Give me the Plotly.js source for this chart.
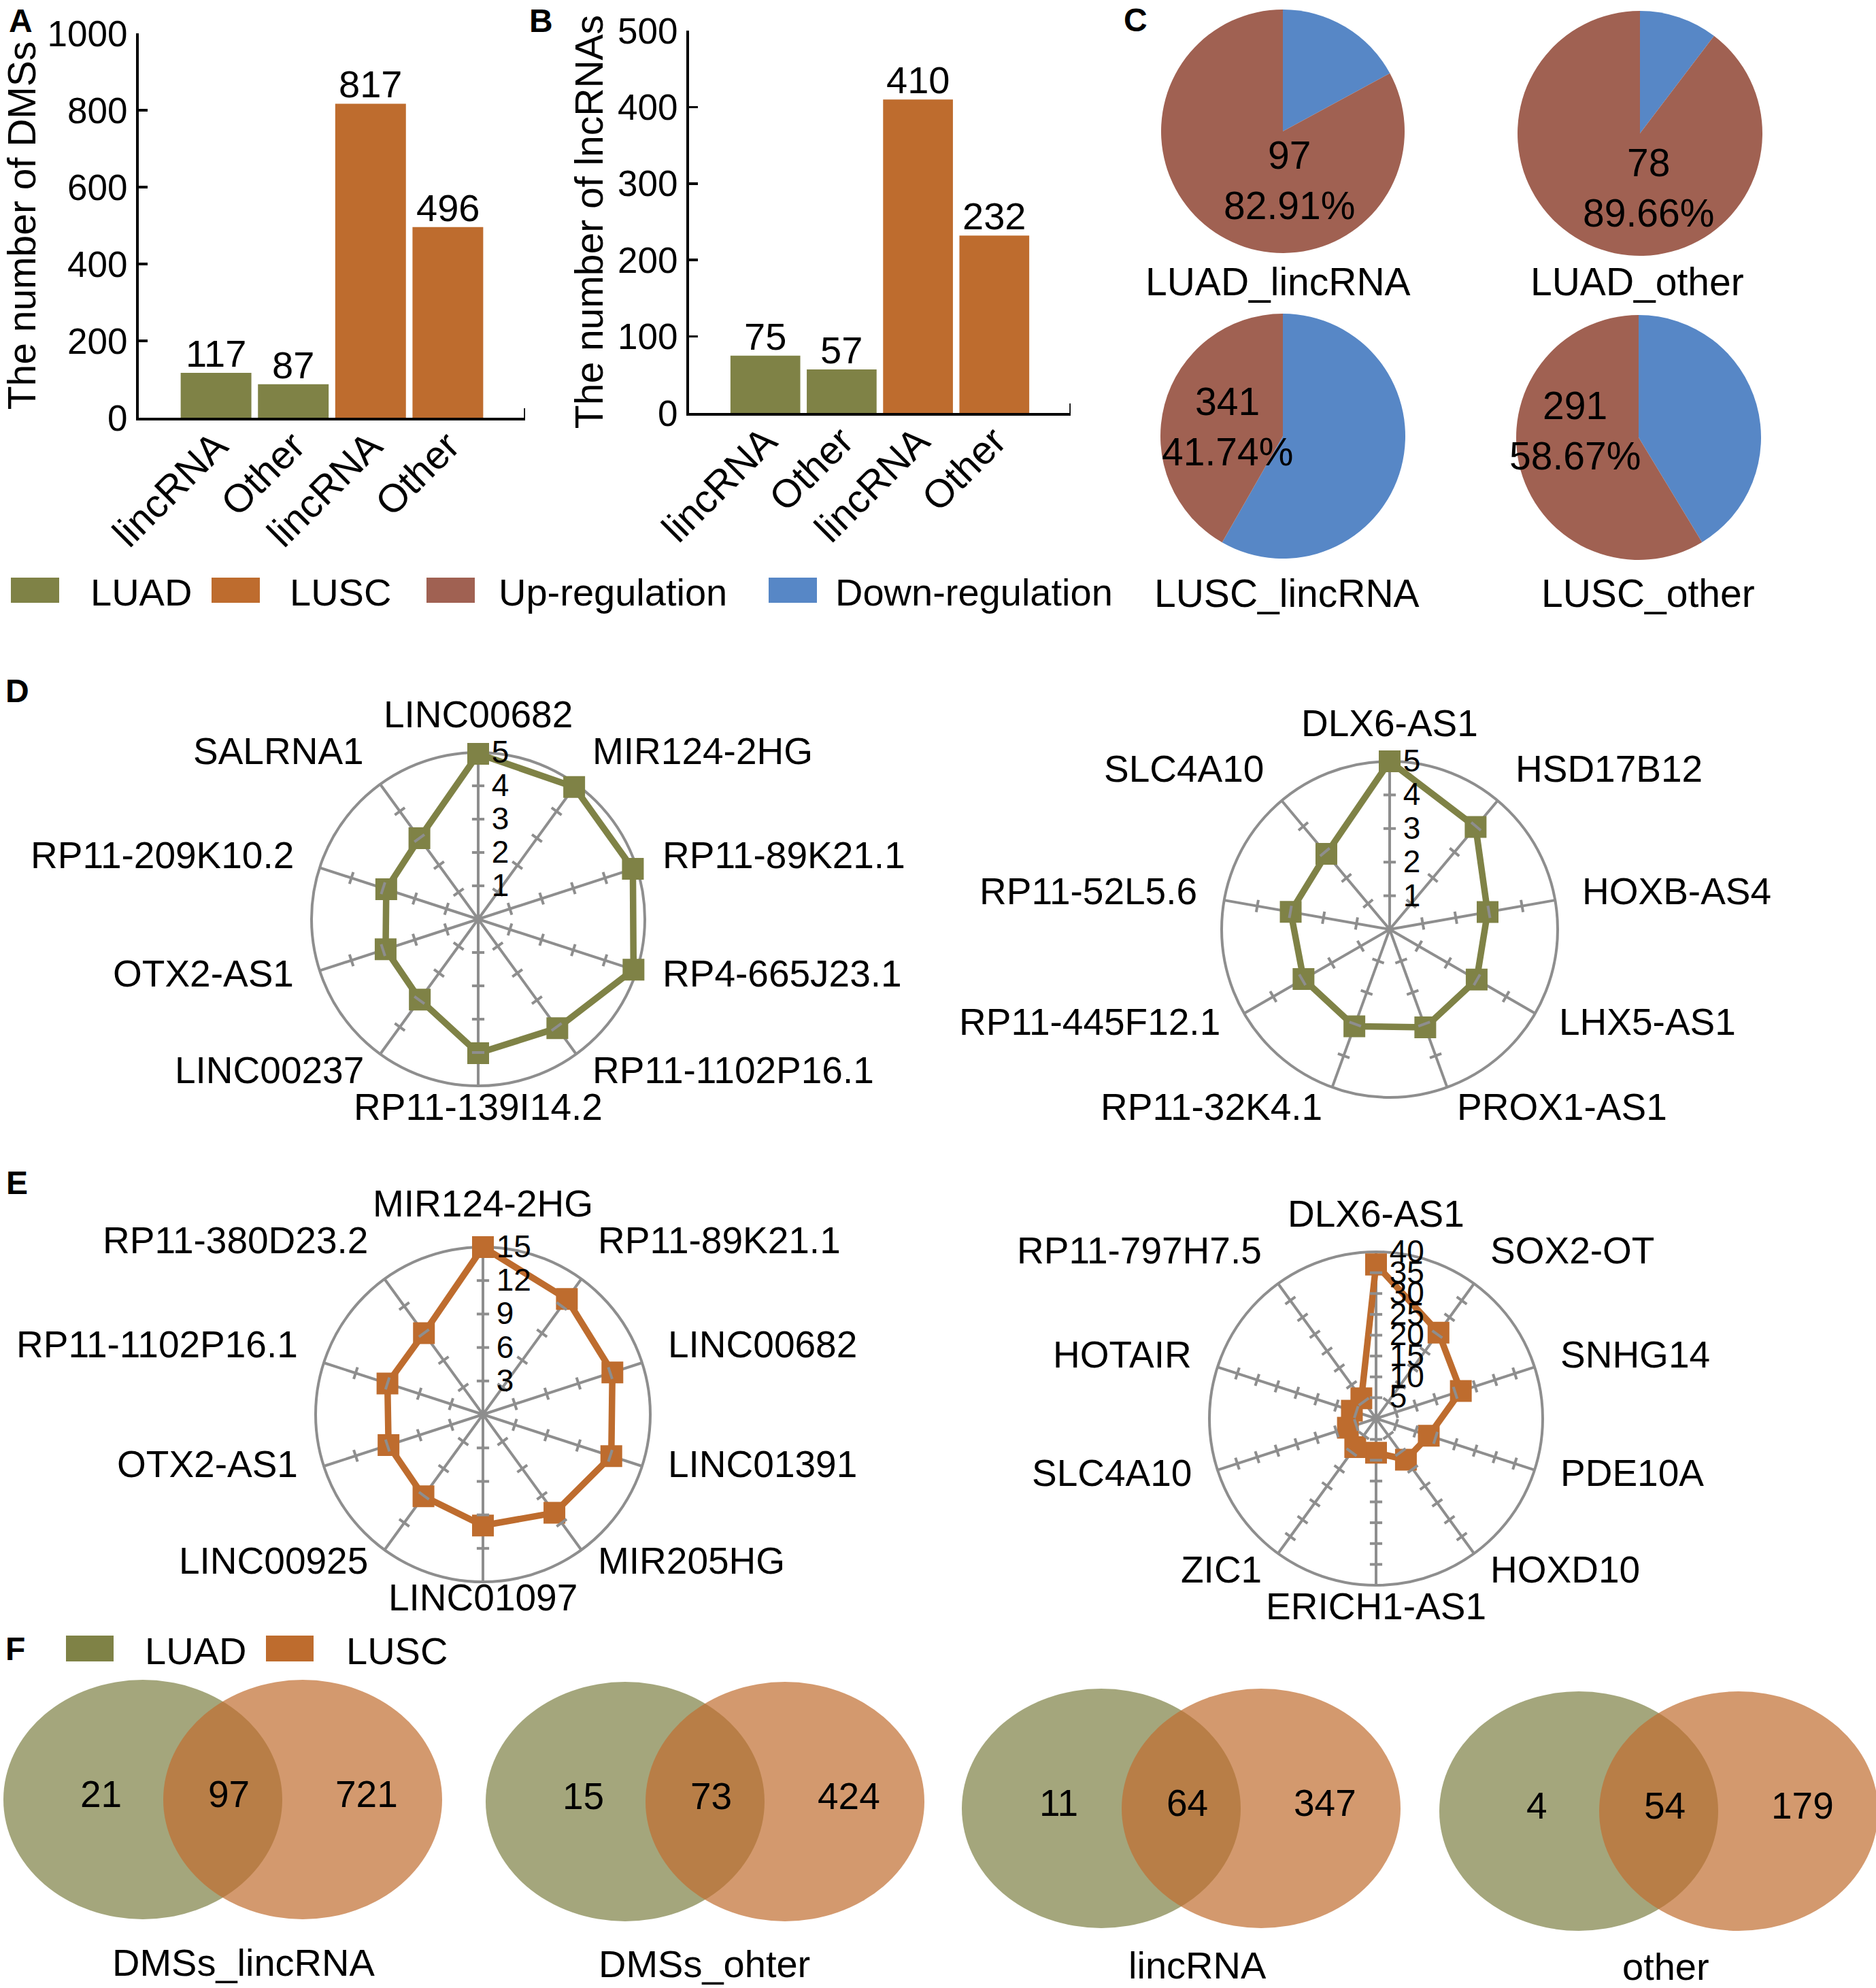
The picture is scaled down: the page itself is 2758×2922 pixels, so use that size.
<!DOCTYPE html>
<html><head><meta charset="utf-8">
<script src="https://cdn.plot.ly/plotly-3.0.1.min.js"></script>
<style>html,body{margin:0;padding:0;background:#fff}</style>
</head><body><div id="chart" style="width:2758px;height:2922px"></div>
<script>
// ================= DATA =================
const barCategoriesA = ['lincRNA', 'Other', 'lincRNA', 'Other'];
const barGroupsA = ['LUAD', 'LUAD', 'LUSC', 'LUSC'];
const dmsCounts = [117, 87, 817, 496];

const barCategoriesB = ['lincRNA', 'Other', 'lincRNA', 'Other'];
const barGroupsB = ['LUAD', 'LUAD', 'LUSC', 'LUSC'];
const lncrnaCounts = [75, 57, 410, 232];

const legendLabels = ['LUAD', 'LUSC', 'Up-regulation', 'Down-regulation'];

const pieNames = ['LUAD_lincRNA', 'LUAD_other', 'LUSC_lincRNA', 'LUSC_other'];
const pieTotals = [117, 87, 817, 496];
const pieUp = [97, 78, 341, 291];

const radarD1Genes = ['LINC00682', 'MIR124-2HG', 'RP11-89K21.1', 'RP4-665J23.1', 'RP11-1102P16.1',
  'RP11-139I14.2', 'LINC00237', 'OTX2-AS1', 'RP11-209K10.2', 'SALRNA1'];
const radarD1Values = [4.96, 4.9, 4.88, 4.9, 4.04, 4.02, 2.98, 2.92, 2.9, 3.0];

const radarD2Genes = ['DLX6-AS1', 'HSD17B12', 'HOXB-AS4', 'LHX5-AS1', 'PROX1-AS1',
  'RP11-32K4.1', 'RP11-445F12.1', 'RP11-52L5.6', 'SLC4A10'];
const radarD2Values = [5.0, 3.98, 2.96, 2.99, 3.1, 3.07, 2.96, 2.99, 2.93];

const radarE1Genes = ['MIR124-2HG', 'RP11-89K21.1', 'LINC00682', 'LINC01391', 'MIR205HG',
  'LINC01097', 'LINC00925', 'OTX2-AS1', 'RP11-1102P16.1', 'RP11-380D23.2'];
const radarE1Values = [15.0, 12.8, 12.2, 12.1, 10.9, 9.95, 9.07, 8.9, 9.0, 9.0];

const radarE2Genes = ['DLX6-AS1', 'SOX2-OT', 'SNHG14', 'PDE10A', 'HOXD10',
  'ERICH1-AS1', 'ZIC1', 'SLC4A10', 'HOTAIR', 'RP11-797H7.5'];
const radarE2Values = [37.0, 25.5, 21.4, 13.3, 12.2, 8.2, 8.5, 7.1, 6.1, 6.0];

const radarD1Ticks = [1, 2, 3, 4, 5];
const radarD2Ticks = [1, 2, 3, 4, 5];
const radarE1Ticks = [3, 6, 9, 12, 15];
const radarE2Ticks = [5, 10, 15, 20, 25, 30, 35, 40];

const vennNames = ['DMSs_lincRNA', 'DMSs_ohter', 'lincRNA', 'other'];
const vennLUADOnly = [21, 15, 11, 4];
const vennBoth = [97, 73, 64, 54];
const vennLUSCOnly = [721, 424, 347, 179];

// ================= STYLE / LAYOUT =================
const W = 2758, H = 2922;
const FONT = 'Liberation Sans, Arial, Helvetica, sans-serif';
const C = {
  LUAD: '#7F8246', LUSC: '#BE6C2E', Up: '#A06152', Down: '#5787C6',
  grid: '#8E8E8E',
  vennLUAD: 'rgba(127,130,70,0.71)', vennLUSC: 'rgba(192,110,48,0.70)'
};
const PX = x => x / W;
const PY = y => 1 - y / H;
const dom = (cx, cy, R) => ({x: [PX(cx - R), PX(cx + R)], y: [PY(cy + R), PY(cy - R)]});

const traces = [];
const annotations = [];
const shapes = [];
const layout = {
  width: W, height: H, margin: {l: 0, r: 0, t: 0, b: 0},
  paper_bgcolor: '#fff', plot_bgcolor: 'rgba(0,0,0,0)',
  showlegend: false, font: {family: FONT, color: '#000', size: 54},
  annotations, shapes
};

// ---------- Bar charts A & B ----------
function barPanel(cats, groups, vals, xa, ya, xDomPx, yTopPx, yBotPx, yMax, dtick, title, standoff) {
  traces.push({
    type: 'bar', x: vals.map((_, i) => i), y: vals, xaxis: xa, yaxis: ya,
    marker: {color: groups.map(g => C[g]), line: {width: 0}},
    width: 0.915, hovertemplate: '%{y}<extra></extra>'
  });
  vals.forEach((v, i) => annotations.push({
    xref: xa, yref: ya, x: i, y: v, xanchor: 'center', yanchor: 'bottom', yshift: -5,
    text: String(v), showarrow: false, font: {size: 56}
  }));
  const xk = xa === 'x' ? 'xaxis' : 'xaxis' + xa.slice(1);
  const yk = ya === 'y' ? 'yaxis' : 'yaxis' + ya.slice(1);
  layout[xk] = {
    domain: [PX(xDomPx[0]), PX(xDomPx[1])], anchor: ya, range: [-1, 4],
    tickvals: cats.map((_, i) => i), ticktext: cats, tickangle: -45, ticklabelstandoff: -20,
    tickfont: {size: 58}, showline: true, linecolor: '#000', linewidth: 4,
    ticks: '', showgrid: false, zeroline: false, fixedrange: true
  };
  layout[yk] = {
    domain: [PY(yBotPx), PY(yTopPx)], anchor: xa, range: [0, yMax], dtick: dtick,
    tickfont: {size: 53}, showline: true, linecolor: '#000', linewidth: 4,
    ticks: 'inside', ticklen: 13, tickwidth: 3.5, tickcolor: '#000', ticklabelstandoff: 2,
    showgrid: false, zeroline: false, fixedrange: true,
    title: {text: title, font: {size: 57}, standoff: standoff}
  };
  // small end tick at the right end of the category axis
  shapes.push({type: 'line', xref: xa, yref: 'paper', x0: 4, x1: 4, y0: PY(yBotPx), y1: PY(yBotPx - 14),
    line: {color: '#000', width: 3.5}});
}
barPanel(barCategoriesA, barGroupsA, dmsCounts, 'x', 'y', [204, 772], 49, 614, 1000, 200, 'The number of DMSs', 0);
barPanel(barCategoriesB, barGroupsB, lncrnaCounts, 'x2', 'y2', [1013, 1574], 45, 607, 500, 100, 'The number of lncRNAs', 4);

// ---------- Legend row ----------
const legendColors = [C.LUAD, C.LUSC, C.Up, C.Down];
const legendBoxX = [16, 311, 627, 1130];
const legendTextX = [131, 424, 731, 1226];
legendLabels.forEach((lab, i) => {
  shapes.push({type: 'rect', xref: 'paper', yref: 'paper', x0: PX(legendBoxX[i]), x1: PX(legendBoxX[i] + 71),
    y0: PY(886), y1: PY(849), fillcolor: legendColors[i], line: {width: 0}});
  annotations.push({xref: 'paper', yref: 'paper', x: PX(legendTextX[i]), y: PY(870), xanchor: 'left', yanchor: 'middle',
    text: lab, showarrow: false, font: {size: 56}});
});

// ---------- Pies C ----------
const pieGeom = [
  {cx: 1886, cy: 193, R: 179, tx: 1895, ty: 265, lx: 1879, ly: 414},
  {cx: 2411, cy: 196, R: 180, tx: 2423, ty: 276, lx: 2407, ly: 414},
  {cx: 1886, cy: 641, R: 180, tx: 1804, ty: 627, lx: 1892, ly: 872},
  {cx: 2409, cy: 643, R: 180, tx: 2315, ty: 633, lx: 2423, ly: 872}
];
pieNames.forEach((name, i) => {
  const g = pieGeom[i];
  const up = pieUp[i], down = pieTotals[i] - pieUp[i];
  traces.push({
    type: 'pie', name: name, values: [down, up], labels: ['Down-regulation', 'Up-regulation'],
    marker: {colors: [C.Down, C.Up], line: {width: 0}}, sort: false, direction: 'clockwise', rotation: 0,
    textinfo: 'none', domain: dom(g.cx, g.cy, g.R), hoverinfo: 'label+value+percent'
  });
  annotations.push({xref: 'paper', yref: 'paper', x: PX(g.tx), y: PY(g.ty), xanchor: 'center', yanchor: 'middle',
    text: up + '<br>' + (up / pieTotals[i] * 100).toFixed(2) + '%', showarrow: false, font: {size: 57}});
  annotations.push({xref: 'paper', yref: 'paper', x: PX(g.lx), y: PY(g.ly), xanchor: 'center', yanchor: 'middle',
    text: name, showarrow: false, font: {size: 57}});
});

// ---------- Radar charts D & E ----------
function radar(id, genes, vals, ticks, color, cx, cy, R, radFont, labelDy) {
  const n = genes.length;
  const max = ticks[ticks.length - 1];
  traces.push({
    type: 'scatterpolar', subplot: id, mode: 'lines+markers',
    theta: genes.concat([genes[0]]), r: vals.concat([vals[0]]),
    line: {color: color, width: 9.5}, marker: {symbol: 'square', size: 32, color: color},
    cliponaxis: false, hovertemplate: '%{theta}: %{r}<extra></extra>'
  });
  // small cross ticks on every spoke
  const tt = [], tr = [], ta = [];
  genes.forEach((g, i) => ticks.slice(0, -1).forEach(t => { tt.push(g); tr.push(t); ta.push(i * 360 / n); }));
  traces.push({
    type: 'scatterpolar', subplot: id, mode: 'markers', theta: tt, r: tr, hoverinfo: 'skip',
    marker: {symbol: 'line-ew', size: 13, angle: ta, color: C.grid, line: {color: C.grid, width: 4}}
  });
  layout[id] = {
    domain: dom(cx, cy, R), bgcolor: 'rgba(0,0,0,0)',
    angularaxis: {type: 'category', categoryarray: genes, rotation: 90, direction: 'clockwise',
      showline: true, linecolor: C.grid, linewidth: 4, showgrid: true, gridcolor: C.grid, gridwidth: 4,
      ticks: '', showticklabels: false, layer: 'below traces'},
    radialaxis: {range: [0, max], tickvals: ticks, showline: false, showgrid: false,
      ticks: 'outside', ticklen: 10, tickcolor: 'rgba(0,0,0,0)',
      angle: 90, tickangle: 90, side: 'clockwise',
      tickfont: {family: FONT, size: radFont, color: '#000'}, layer: 'above traces'}
  };
  // category labels around the circle
  genes.forEach((g, i) => {
    const a = i * 2 * Math.PI / n, s = Math.sin(a), c = Math.cos(a);
    const rr = R + 38;
    const x = cx + rr * s;
    const y = cy - rr * c - 7 - (c > 0.5 ? 11 : 0) + labelDy;
    annotations.push({xref: 'paper', yref: 'paper', x: PX(x), y: PY(y),
      xanchor: s > 0.05 ? 'left' : (s < -0.05 ? 'right' : 'center'), yanchor: 'middle',
      text: g, showarrow: false, font: {size: 55}});
  });
}
radar('polar', radarD1Genes, radarD1Values, radarD1Ticks, C.LUAD, 703, 1351, 245, 46, 0);
radar('polar2', radarD2Genes, radarD2Values, radarD2Ticks, C.LUAD, 2043, 1366, 247, 46, 0);
radar('polar3', radarE1Genes, radarE1Values, radarE1Ticks, C.LUSC, 710, 2079, 246, 46, -8);
radar('polar4', radarE2Genes, radarE2Values, radarE2Ticks, C.LUSC, 2023, 2085, 245, 46, 0);

// ---------- Venn diagrams F ----------
const vennGreenCx = [210, 919, 1619, 2321];
const vennCy = [2645, 2648, 2658, 2662];
const vennLabelX = [358, 1035, 1760, 2449];
const vennLabelY = [2884, 2886, 2888, 2890];
const vennRx = 205, vennRy = 176, vennShift = 235;
vennNames.forEach((name, i) => {
  const gx = vennGreenCx[i], ox = gx + vennShift, cy = vennCy[i];
  shapes.push({type: 'circle', xref: 'paper', yref: 'paper', x0: PX(gx - vennRx), x1: PX(gx + vennRx),
    y0: PY(cy + vennRy), y1: PY(cy - vennRy), fillcolor: C.vennLUAD, line: {width: 0}});
  shapes.push({type: 'circle', xref: 'paper', yref: 'paper', x0: PX(ox - vennRx), x1: PX(ox + vennRx),
    y0: PY(cy + vennRy), y1: PY(cy - vennRy), fillcolor: C.vennLUSC, line: {width: 0}});
  const ny = cy - 8;
  [[gx - 62, vennLUADOnly[i]], [(gx + ox) / 2 + 9, vennBoth[i]], [ox + 94, vennLUSCOnly[i]]].forEach(([x, v]) => {
    annotations.push({xref: 'paper', yref: 'paper', x: PX(x), y: PY(ny), xanchor: 'center', yanchor: 'middle',
      text: String(v), showarrow: false, font: {size: 55}});
  });
  annotations.push({xref: 'paper', yref: 'paper', x: PX(vennLabelX[i]), y: PY(vennLabelY[i]), xanchor: 'center', yanchor: 'middle',
    text: name, showarrow: false, font: {size: 56}});
});
// Venn legend
const vennLegendLabels = ['LUAD', 'LUSC'];
const vennLegendBoxX = [97, 391], vennLegendTextX = [211, 507];
vennLegendLabels.forEach((lab, i) => {
  shapes.push({type: 'rect', xref: 'paper', yref: 'paper', x0: PX(vennLegendBoxX[i]), x1: PX(vennLegendBoxX[i] + 70),
    y0: PY(2442), y1: PY(2404), fillcolor: C[lab], line: {width: 0}});
  annotations.push({xref: 'paper', yref: 'paper', x: PX(vennLegendTextX[i]), y: PY(2426), xanchor: 'left', yanchor: 'middle',
    text: lab, showarrow: false, font: {size: 56}});
});

// ---------- Panel letters ----------
[['A', 30, 31], ['B', 795, 31], ['C', 1669, 30], ['D', 25, 1016], ['E', 25, 1739], ['F', 22, 2423]].forEach(([t, x, y]) => {
  annotations.push({xref: 'paper', yref: 'paper', x: PX(x), y: PY(y), xanchor: 'center', yanchor: 'middle',
    text: '<b>' + t + '</b>', showarrow: false, font: {size: 48}});
});

Plotly.newPlot('chart', traces, layout, {staticPlot: true, displayModeBar: false});
</script></body></html>
